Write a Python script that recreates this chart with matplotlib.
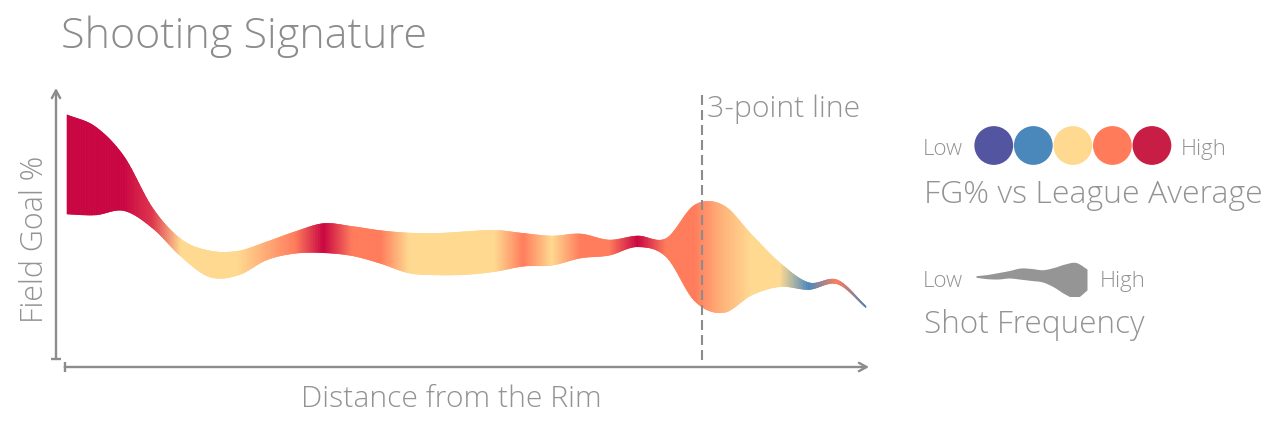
import numpy as np
import matplotlib
matplotlib.use("Agg")
import matplotlib.pyplot as plt
from matplotlib.collections import PolyCollection
from matplotlib import font_manager

# ---------------- data ----------------
distance_ft = list(range(0, 29))  # distance from the rim (ft)
fg_pct = [71.8, 69.4, 64.7, 52.0, 41.0, 35.1, 35.4, 39.9, 43.0, 44.6,
          43.5, 41.3, 39.1, 38.7, 39.1, 39.9, 40.3, 40.0, 41.7, 41.1,
          43.4, 41.1, 39.1, 36.9, 34.7, 31.0, 26.9, 28.4, 19.2]
shot_freq = [24.8, 22.0, 13.5, 5.0, 4.3, 6.5, 6.0, 4.5, 5.4, 7.3,
             7.3, 8.2, 10.0, 10.4, 10.7, 10.3, 8.2, 7.3, 6.0, 3.8,
             2.7, 4.6, 24.0, 26.8, 15.0, 5.8, 1.7, 1.0, 0.4]
# FG% vs league average: -2 (low) ... +2 (high)
fg_vs_league = [2, 2, 2, 1.6, 0, 0, 0, 0.5, 1, 2,
                1, 1, 0, 0, 0, 0, 1, 0, 1, 1,
                2, 1, 1, 0.4, 0, 0, -1, 1, -1.2]
three_point_ft = 22.25

legend_levels = ["Low", "", "", "", "High"]
band_colors = ["#5254a3", "#4a88bb", "#fed98f", "#ff7b5a", "#c90441"]
legend_colors = ["#5355a0", "#4a88bb", "#fed98f", "#ff7b5a", "#c81e45"]
# legend glyph for shot frequency (centre offset, thickness)
freq_glyph_center = [0.5, 0.4, 1.2, 2.75, 3.4, 2.5, 1.15, -0.25, -2.0, -3.25, -2.5]
freq_glyph_width = [1.6, 4.2, 6.4, 7.5, 11.2, 12.0, 12.3, 19.5, 30.0, 35.5, 21.0]

GRAY = "#8c8c8c"
LIGHT = "#939393"

avail = {f.name for f in font_manager.fontManager.ttflist}
FONT = "Open Sans" if "Open Sans" in avail else "DejaVu Sans"
plt.rcParams["font.family"] = [FONT, "DejaVu Sans"]
TW = 300

W, H = 1271, 426
fig = plt.figure(figsize=(W / 100, H / 100), dpi=100)


def fx(px):
    return px / W


def fy(py):
    return 1 - py / H


# main axes: pixel box x 56..869, y 88..367
ax = fig.add_axes([fx(56), fy(367), (869 - 56) / W, (367 - 88) / H])
ax.set_xlim(-0.385, 28.105)
ax.set_ylim(-2.95, 100)
ax.axis("off")


def hermite(vals, n_sub):
    p = np.asarray(vals, float)
    n = len(p)
    m = np.empty(n)
    m[1:-1] = (p[2:] - p[:-2]) / 2
    m[0] = p[1] - p[0]
    m[-1] = p[-1] - p[-2]
    out = []
    t = np.linspace(0, 1, n_sub, endpoint=False)
    for i in range(n - 1):
        h00 = 2 * t**3 - 3 * t**2 + 1
        h10 = t**3 - 2 * t**2 + t
        h01 = -2 * t**3 + 3 * t**2
        h11 = t**3 - t**2
        out.append(h00 * p[i] + h10 * m[i] + h01 * p[i + 1] + h11 * m[i + 1])
    out.append([p[-1]])
    return np.concatenate(out)


NS = 40
x = np.asarray(distance_ft, float)
xd = hermite(x, NS)
cd = hermite(fg_pct, NS)
wscale = 4 / 2.71
wd = np.clip(hermite(shot_freq, NS), 0.15, None) * wscale
lo = cd - wd / 2
hi = cd + wd / 2

# per-point colours from value, then linear RGB blend between points
lev = np.array([-2, -1, 0, 1, 2], float)
band_rgb = np.array([matplotlib.colors.to_rgb(c) for c in band_colors])
pt_rgb = np.array([[np.interp(v, lev, band_rgb[:, k]) for k in range(3)]
                   for v in fg_vs_league])
seg_idx = np.minimum((np.arange(len(xd)) // NS), len(x) - 2)
tt = (np.arange(len(xd)) % NS) / NS
tt[-1] = 1.0
col_d = pt_rgb[seg_idx] * (1 - tt)[:, None] + pt_rgb[seg_idx + 1] * tt[:, None]

polys, cols = [], []
for j in range(len(xd) - 1):
    polys.append([(xd[j], lo[j]), (xd[j + 1], lo[j + 1]),
                  (xd[j + 1], hi[j + 1]), (xd[j], hi[j])])
    cols.append((col_d[j] + col_d[j + 1]) / 2)
pc = PolyCollection(polys, facecolors=cols, edgecolors=cols, linewidths=0.4)
ax.add_collection(pc)

# 3-point line
ax.axvline(three_point_ft, ymin=(367 - 360) / 279, ymax=(367 - 92) / 279,
           color=GRAY, lw=1.5, dashes=(4.8, 2.4))

# axes with arrows
arrow = dict(arrowstyle="->,head_length=0.55,head_width=0.3", lw=1.7,
             color=GRAY, shrinkA=0, shrinkB=0)
y0 = (367 - 359) / 279
ax.annotate("", xy=(0, 1), xytext=(0, y0), xycoords="axes fraction",
            arrowprops=arrow)
ax.plot([-5 / 813, 5 / 813], [y0, y0], transform=ax.transAxes, color=GRAY,
        lw=1.7, clip_on=False, solid_capstyle="butt")
x0 = (64.7 - 56) / 813
ax.annotate("", xy=(1, 0), xytext=(x0, 0), xycoords="axes fraction",
            arrowprops=arrow)
ax.plot([x0, x0], [5 / 279, -5 / 279], transform=ax.transAxes, color=GRAY,
        lw=1.7, clip_on=False, solid_capstyle="butt")

fig.text(fx(61), fy(47.5), "Shooting Signature", fontsize=31, color=GRAY,
         va="baseline", ha="left", fontweight=TW)
fig.text(fx(707), fy(116.7), "3-point line", fontsize=21.7, color=LIGHT,
         va="baseline", ha="left", fontweight=TW)
fig.text(fx(451.5), fy(407), "Distance from the Rim", fontsize=21.7, color=LIGHT,
         va="baseline", ha="center", fontweight=TW)
fig.text(fx(43.3), fy(239), "Field Goal %", fontsize=22, color=LIGHT,
         va="baseline", ha="center", rotation=90, rotation_mode="anchor",
         fontweight=TW)
fig.text(fx(924), fy(202.7), "FG% vs League Average", fontsize=23, color=LIGHT,
         va="baseline", ha="left", fontweight=TW)
fig.text(fx(924), fy(333.3), "Shot Frequency", fontsize=22.7, color=LIGHT,
         va="baseline", ha="left", fontweight=TW)
for px, py, s in [(923, 155, "Low"), (1181, 155, "High"),
                  (923, 286.7, "Low"), (1100, 286.7, "High")]:
    fig.text(fx(px), fy(py), s, fontsize=16, color=LIGHT, va="baseline",
             ha="left", fontweight=TW)

# colour legend circles
lax = fig.add_axes([fx(974), fy(165), (1171.7 - 974) / W, 39 / H])
lax.set_xlim(-0.5, 4.5)
lax.set_ylim(-1, 1)
lax.axis("off")
lax.scatter(range(len(legend_levels)), [0] * len(legend_levels), s=780,
            c=legend_colors, linewidths=0, clip_on=False)

# frequency legend glyph
gax = fig.add_axes([fx(976), fy(296), (1087 - 976) / W, 38 / H])
gx = np.arange(len(freq_glyph_width), dtype=float)
gax.set_xlim(0, gx[-1])
gax.set_ylim(-19, 19)
gax.axis("off")
gxd = hermite(gx, 20)
gc = hermite(freq_glyph_center, 20)
gw = hermite(freq_glyph_width, 20)
gax.fill_between(gxd, gc - gw / 2, gc + gw / 2, color="#959595", lw=0)

fig.savefig("out.png", dpi=100)
